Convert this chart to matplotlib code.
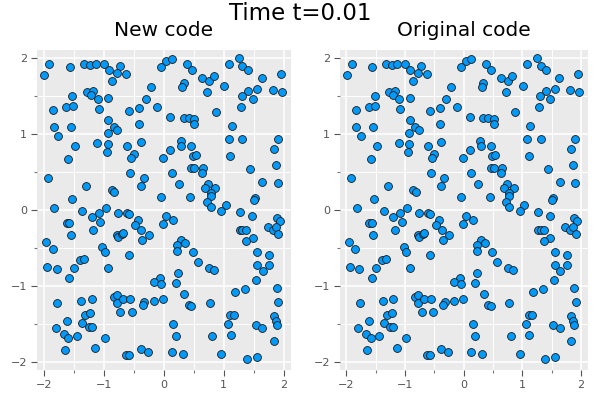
#!/usr/bin/python3

import matplotlib
matplotlib.use('Agg')
import matplotlib.pyplot as plt
from matplotlib.ticker import MultipleLocator

# particle positions (both panels show the same cloud)
x_pos = [
    -1.91, -1.99, -1.56, -1.33, -1.23, -1.13, -1.00, -0.91, -0.73, -0.78, -0.62, -0.86, -0.21,
    -1.28, -1.18, -1.21, -1.10, -0.92, -1.52, -1.84, -1.62, -1.51, -1.08, -0.30, -0.58, -0.41,
    -0.12, -0.92, -0.83, -0.77, -0.93, -1.83, -1.55, -1.76, -0.41, -1.48, -1.11, -0.93, -0.95,
    -0.61, -0.38, -0.50, -0.54, -1.59, -0.56, -1.92, -0.33, -0.38, -1.30, -0.86, -0.82, -1.53,
    -0.05, 0.04, 0.13, 0.38, 0.47, 0.64, 0.76, 0.83, 0.33, 0.31, 0.72, 1.01, 1.08, 1.25, 1.31,
    1.41, 1.63, 1.95, 1.55, 1.41, 1.30, 1.48, 1.82, 1.97, 1.28, 0.87, 0.11, 0.33, 0.42, 0.51,
    0.51, 1.13, 0.28, 0.29, 0.46, 0.10, -0.02, 0.49, 0.53, 1.08, 1.31, 1.11, 1.90, 1.83, 0.46,
    0.51, 0.66, 0.63, 0.13, 1.43, 1.87, 0.25, 0.73, 0.68, 0.86, 0.78, 0.78, 1.64, 1.90, -0.04,
    0.44, 1.52, 1.51, 0.72, 1.03,
    -1.82, -1.36, -0.96, -1.20, -1.08, -1.06, -0.76, -0.61, -0.57, -0.42, -0.47, -0.37, -0.25,
    -0.36, -1.61, -1.57, -1.54, -1.17, -0.78, -0.76, -0.70, -0.67, -1.96, -1.85, -1.02, -0.98,
    -0.58, -1.39, -1.32, -1.94, -1.78, -1.50, -1.57, -0.92, -0.07, -0.16, -1.77, -1.38, -1.20,
    -0.83, -0.78, -0.78, -0.67, -0.56, -0.32, -0.35, -0.17, -0.72, -0.52, -1.31, -1.23, -1.61,
    -1.36, -1.25, -1.20, -1.80, -1.66, -1.59, -1.45, -0.98, -1.65, -1.14, -0.62, -0.58, -0.38,
    -0.26,
    0.78, 0.96, 1.27, 1.47, 0.04, 0.16, -0.01, 1.88, 1.94, 1.73, 1.82, 1.87, 1.91, 1.27, 1.31,
    1.37, 1.48, 1.37, 0.29, 0.22, 0.36, 0.22, 0.48, 0.57, 1.56, 1.76, 1.55, 1.76, 1.65, 0.75,
    0.84, 0.23, 0.20, -0.04, 1.54, 1.36, 1.18, 1.88, 0.34, -0.01, 1.91, 0.77, 0.42, 0.46, 1.11,
    1.17, 1.83, 1.87, 1.88, 0.16, 1.07, 1.53, 1.64, 0.20, 0.80, 1.12, 1.83, 0.13, 0.32, 0.96,
    1.38, 1.55,
]
y_pos = [
    1.92, 1.78, 1.89, 1.92, 1.91, 1.92, 1.92, 1.85, 1.90, 1.81, 1.79, 1.70, 1.62,
    1.56, 1.57, 1.52, 1.47, 1.48, 1.50, 1.32, 1.36, 1.37, 1.33, 1.47, 1.30, 1.34,
    1.36, 1.19, 1.10, 1.06, 1.02, 1.10, 1.09, 0.98, 1.13, 0.84, 0.89, 0.87, 0.77,
    0.85, 0.90, 0.74, 0.68, 0.67, 0.49, 0.42, 0.42, 0.31, 0.31, 0.26, 0.24, 0.14,
    1.89, 1.97, 1.99, 1.92, 1.85, 1.74, 1.70, 1.77, 1.67, 1.62, 1.56, 1.63, 1.92, 2.00, 1.90,
    1.85, 1.74, 1.80, 1.60, 1.57, 1.50, 1.46, 1.58, 1.55, 1.36, 1.29, 1.22, 1.21, 1.21, 1.20,
    1.14, 1.11, 0.91, 0.84, 0.85, 0.79, 0.68, 0.71, 0.72, 0.93, 0.93, 0.71, 0.94, 0.81, 0.56,
    0.56, 0.56, 0.49, 0.49, 0.54, 0.60, 0.34, 0.34, 0.29, 0.29, 0.23, 0.19, 0.37, 0.35, 0.17,
    0.17, 0.16, 0.13, 0.10, 0.06,
    0.02, -0.01, 0.02, -0.09, -0.04, -0.16, -0.04, -0.04, -0.05, -0.13, -0.20, -0.26, -0.33,
    -0.39, -0.17, -0.17, -0.33, -0.27, -0.33, -0.35, -0.31, -0.30, -0.42, -0.52, -0.49, -0.56,
    -0.60, -0.66, -0.64, -0.75, -0.78, -0.77, -0.90, -0.76, -0.90, -0.95, -1.23, -1.20, -1.17,
    -1.15, -1.12, -1.23, -1.17, -1.17, -1.21, -1.25, -1.20, -1.34, -1.34, -1.38, -1.36, -1.47,
    -1.49, -1.54, -1.54, -1.56, -1.63, -1.69, -1.66, -1.69, -1.85, -1.82, -1.91, -1.91, -1.83,
    -1.87,
    0.04, -0.01, -0.03, -0.08, -0.08, -0.13, -0.19, -0.10, -0.15, -0.23, -0.26, -0.22, -0.32, -0.27, -0.26,
    -0.26, -0.37, -0.41, -0.39, -0.46, -0.43, -0.54, -0.56, -0.68, -0.55, -0.60, -0.72, -0.73, -0.80, -0.77,
    -0.79, -0.83, -0.96, -0.98, -0.92, -1.04, -1.08, -1.03, -1.11, -1.18, -1.21, -1.23, -1.25, -1.27, -1.38,
    -1.38, -1.40, -1.47, -1.51, -1.50, -1.50, -1.51, -1.56, -1.66, -1.66, -1.65, -1.73, -1.87, -1.90, -1.90,
    -1.97, -1.94,
]
panel_titles = ['New code', 'Original code']
main_title = 'Time t=0.01'
tick_values = [-2, -1, 0, 1, 2]


def style_axes(ax):
    ax.set_facecolor('#eaeaea')
    for side in ax.spines.values():
        side.set_visible(False)
    ax.set_xlim(-2.11, 2.12)
    ax.set_ylim(-2.11, 2.11)
    ax.set_xticks(tick_values)
    ax.set_yticks(tick_values)
    ax.set_xticklabels([str(v).replace('-', '\u2212') for v in tick_values])
    ax.set_yticklabels([str(v).replace('-', '\u2212') for v in tick_values])
    ax.xaxis.set_minor_locator(MultipleLocator(0.5))
    ax.yaxis.set_minor_locator(MultipleLocator(0.5))
    ax.grid(True, which='major', color='white', linewidth=1.1)
    ax.grid(True, which='minor', color='white', linewidth=0.7)
    ax.set_axisbelow(True)
    ax.tick_params(which='major', length=4, width=0.8, color='#555555',
                   labelsize=8, labelcolor='#555555', pad=3)
    ax.tick_params(which='minor', length=2.5, width=0.8, color='#777777')


fig = plt.figure(figsize=(6, 4), dpi=100)
boxes = [[0.0617, 0.075, 0.4233, 0.8], [0.5667, 0.075, 0.4133, 0.8]]
for box, title in zip(boxes, panel_titles):
    ax = fig.add_axes(box)
    style_axes(ax)
    ax.scatter(x_pos, y_pos, s=32, color='#009afa', edgecolors='#1a1a1a',
               linewidths=0.6, zorder=3)
    ax.set_title(title, fontsize=14.5, pad=10)
fig.text(0.5, 1 - 20 / 400, main_title, ha='center', va='baseline', fontsize=16.5)

fig.savefig('out.png', dpi=100)
